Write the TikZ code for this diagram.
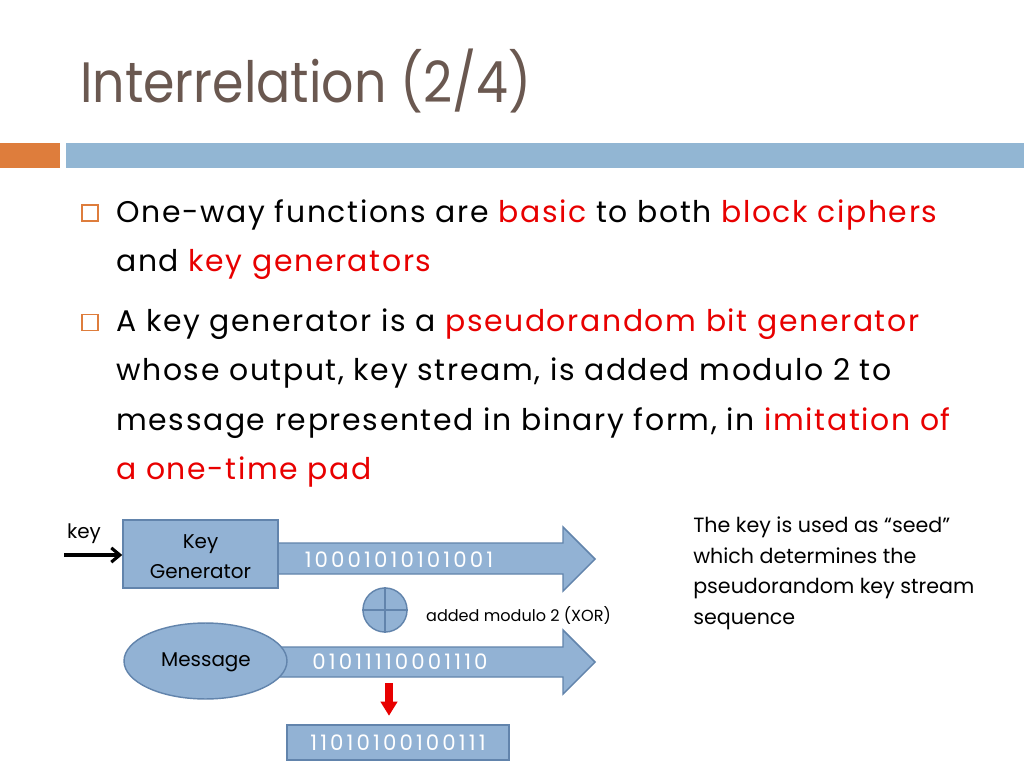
\documentclass[tikz,border=0pt]{standalone}
\usepackage{fontspec}
\setmainfont{Poppins}
\newfontfamily\bitsfont[LetterSpace=14.5]{Poppins}
\newfontfamily\bodyfont[LetterSpace=5.5]{Poppins}
\usetikzlibrary{positioning,shapes.geometric,arrows.meta}
\definecolor{titlebrown}{RGB}{106,88,80}
\definecolor{barorange}{RGB}{222,125,60}
\definecolor{barblue}{RGB}{146,182,211}
\definecolor{boxblue}{RGB}{146,178,212}
\definecolor{boxline}{RGB}{98,132,172}
\definecolor{hired}{RGB}{232,0,0}
\newcommand{\hl}[1]{\textcolor{hired}{#1}}

\begin{document}
\begin{tikzpicture}[
    x=0.703125pt, y=-0.703125pt,
    bodytext/.style={anchor=north west, inner sep=0pt, align=left, font=\bodyfont\fontsize{21}{34.7}\selectfont},
    bulletbox/.style={draw=barorange, line width=1pt, fill=white, minimum size=11pt, inner sep=0pt},
    bluebox/.style={rectangle, draw=boxline, line width=1pt, fill=boxblue, inner sep=0pt},
    bitstext/.style={text=white, font=\bitsfont\fontsize{15}{17}\selectfont, inner sep=0pt},
    bigarrow/.style={draw=boxline, line width=1pt, fill=boxblue},
    labeltext/.style={font=\fontsize{14}{21}\selectfont, inner sep=0pt, align=center},
    note/.style={font=\fontsize{11.3}{14}\selectfont, inner sep=0pt}
]
    \useasboundingbox (0,0) rectangle (1024,768);
    \fill[white] (0,0) rectangle (1024,768);

    % Title and bar
    \node[anchor=base west, inner sep=0pt, text=titlebrown, font=\fontsize{40}{44}\selectfont] (title) at (80,103) {\scalebox{0.89}[1]{Interrelation (2/4)}};
    \fill[barorange] (0,143) rectangle (60,168);
    \fill[barblue] (66,143) rectangle (1024,168);

    % Bullets
    \node[bulletbox] (b1) at (90,213) {};
    \node[bodytext] (t1) at (116,199.5) {One-way functions are \hl{basic} to both \hl{block ciphers}\\and \hl{key generators}};
    \node[bulletbox] (b2) at (90,322.5) {};
    \node[bodytext] (t2) at (116,308.5) {A key generator is a \hl{pseudorandom bit generator}\\whose output, key stream, is added modulo 2 to\\message represented in binary form, in \hl{imitation of}\\\hl{a one-time pad}};

    % Key generator and key stream
    \fill[bigarrow] (278,543) -- (563,543) -- (563,527) -- (595,559) -- (563,591) -- (563,574) -- (278,574);
    \node[bluebox, minimum width=109pt, minimum height=48pt] (keygen) at (200.5,554) {};
    \node[labeltext] (kglbl) at ([yshift=-2pt]keygen.center) {Key\\Generator};
    \node[bitstext] (keystream) at (399,560) {10001010101001};
    \node[labeltext] (keylbl) at (84,534) {key};
    \coordinate (keyin) at (64,555);
    \draw[-{Straight Barb[length=6pt,width=10pt]}, line width=2.2pt] (keyin) -- (keyin -| keygen.west);

    % XOR
    \node[circle, draw=boxline, line width=1pt, fill=boxblue, minimum size=31pt] (xor) at (385,610) {};
    \draw[boxline, line width=1pt] (xor.north) -- (xor.south) (xor.west) -- (xor.east);
    \node[note] (xorlbl) at (518.5,615) {added modulo 2 (XOR)};

    % Message and its bits
    \fill[bigarrow] (250,647) -- (563,647) -- (563,630) -- (595,662) -- (563,694) -- (563,677) -- (250,677);
    \node[ellipse, draw=boxline, line width=1pt, fill=boxblue, minimum width=114.6pt, minimum height=53.4pt, inner sep=0pt] (msg) at (205.5,661) {};
    \node[labeltext] (msglbl) at (206,662) {Message};
    \node[bitstext] (msgbits) at (400,662) {01011110001110};

    % Result
    \node[bluebox, minimum width=156pt, minimum height=24.6pt] (result) at (398,742.5) {};
    \node[bitstext] (resbits) at (398,743) {11010100100111};
    \coordinate (redtop) at (389,683);
    \draw[-{Triangle[length=10pt,width=11.5pt]}, line width=6pt, hired, shorten >=6pt] (redtop) -- (redtop |- result.north);

    % Side note
    \node[anchor=north west, inner sep=0pt, align=left, font=\fontsize{14.5}{21.4}\selectfont] (seed) at (693,517) {The key is used as “seed”\\which determines the\\pseudorandom key stream\\sequence};
\end{tikzpicture}
\end{document}
